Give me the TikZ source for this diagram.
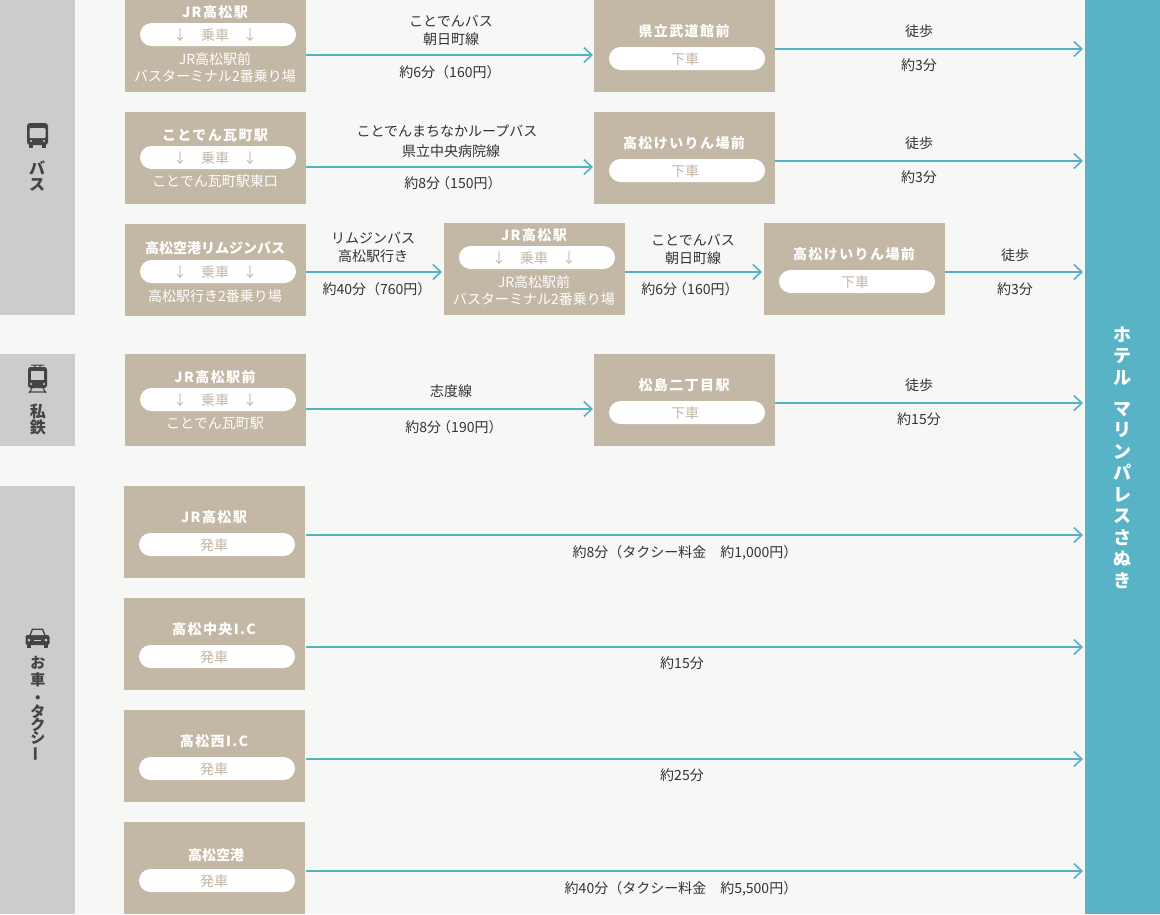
\documentclass[tikz,border=0pt]{standalone}
\usepackage{fontspec}
\setmainfont{Noto Sans CJK JP}
\newfontfamily\spacedfont[LetterSpace=10]{Noto Sans CJK JP}
\usepackage{tikz}
\usetikzlibrary{arrows.meta, calc, positioning, shapes.misc}
\definecolor{pagebg}{HTML}{F7F7F5}
\definecolor{sidegray}{HTML}{CCCCCC}
\definecolor{boxbrown}{HTML}{C3B7A5}
\definecolor{hotelblue}{HTML}{59B3C7}
\definecolor{linkblue}{HTML}{52B1C6}
\definecolor{inkdark}{HTML}{333333}
\definecolor{iconink}{HTML}{444444}
\tikzset{
  sidebar/.style={fill=sidegray, draw=none, minimum width=75pt, inner sep=0pt, outer sep=0pt},
  stopbox/.style={fill=boxbrown, draw=none, minimum width=181pt, minimum height=92pt, inner sep=0pt, outer sep=0pt},
  pill/.style={rounded rectangle, fill=white, draw=none, minimum width=156pt, minimum height=23pt, inner sep=0pt, outer sep=0pt, text=boxbrown, font=\fontsize{14}{14}\selectfont, text height=13pt, text depth=2pt},
  stoptitle/.style={text=white, inner sep=0pt, font=\spacedfont\bfseries\fontsize{14}{14}\selectfont, text height=13pt, text depth=2pt},
  stoptitlenarrow/.style={stoptitle, font=\bfseries\fontsize{14}{14}\selectfont},
  stopnote/.style={text=white, inner sep=0pt, font=\fontsize{14}{14}\selectfont, text height=13pt, text depth=2pt},
  linklabel/.style={text=inkdark, inner sep=0pt, font=\fontsize{14}{14}\selectfont, text height=13pt, text depth=2pt},
  sidelabel/.style={text=iconink, inner sep=0pt, align=center, font=\bfseries\fontsize{16}{16}\selectfont},
  link/.style={draw=linkblue, line width=2pt, -{Straight Barb[length=8pt,width=15pt,line width=1.6pt]}, shorten >=2pt},
  boxlink/.style={link, shorten >=1pt},
}
\newcommand{\ridepill}{↓\hspace{14pt}乗車\hspace{14pt}↓\kern6pt}
\newcommand{\offpill}{下車\kern4pt}
\newcommand{\departpill}{発車\kern6pt}
\begin{document}
\begin{tikzpicture}[x=1pt,y=-1pt]

        % Background
        \fill[pagebg] (0,0) rectangle (1160,914);

        % Side bars
        \node[sidebar, minimum height=315pt] (sidebus) at (37.5,157.5) {};
        \node[sidebar, minimum height=92pt] (siderail) at (37.5,400) {};
        \node[sidebar, minimum height=428pt] (sidecar) at (37.5,700) {};
        \node[fill=hotelblue, minimum width=75pt, minimum height=914pt, inner sep=0pt, outer sep=0pt] (hotel) at (1122.5,457) {};
        \node[text=white, inner sep=0pt, align=center, font=\bfseries\fontsize{18}{21.5}\selectfont] (hotelname) at (1122,457.5) {ホ\\テ\\ル\\[9.5pt]マ\\リ\\ン\\パ\\レ\\ス\\さ\\ぬ\\き};

        % Side labels
        \node[sidelabel] (buslabel) at (37,176) {バ\\ス};
        \node[sidelabel] (raillabel) at (38,419.5) {私\\鉄};
        \node[sidelabel, font=\bfseries\fontsize{15}{15}\selectfont] (carlabel) at (38,709) {お\\[2pt]車\\[3pt]・\\[-1pt]タ\\[-2pt]ク\\[-2pt]シ\\[-1pt]\rotatebox[origin=c]{90}{ー}};

        % Bus icon
        \fill[iconink, rounded corners=3pt] (27,123) rectangle (48,145);
        \fill[iconink] (29,144) rectangle (33,148); % wheel
        \fill[iconink] (42,144) rectangle (46,148); % wheel
        \fill[sidegray, rounded corners=1pt] (29.5,128) rectangle (45.5,138);
        \fill[sidegray] (31,141) circle (1.2);
        \fill[sidegray] (44,141) circle (1.2);

        % Train icon
        \draw[iconink, line width=1pt] (31,365) -- (44,365) (34,365) -- (36,368) (41,365) -- (39,368);
        \fill[iconink, rounded corners=2.5pt] (28,367) rectangle (47,388);
        \fill[sidegray] (31,371) rectangle (44,380);
        \fill[sidegray] (31,384) circle (1.2);
        \fill[sidegray] (44,384) circle (1.2);
        \draw[iconink, line width=1.2pt] (32,388) -- (29,393) (43,388) -- (46,393) (29,392) -- (46,392);

        % Car icon
        \fill[iconink, rounded corners=2pt] (25.5,635) rectangle (49.5,645);
        \fill[iconink] (29,636) -- (32,628.5) -- (43,628.5) -- (46,636) -- cycle;
        \fill[sidegray] (31,635) -- (33,630) -- (42,630) -- (44,635) -- cycle;
        \fill[iconink] (27,644) rectangle (31,647.5); % wheel
        \fill[iconink] (44,644) rectangle (48,647.5); % wheel
        \fill[sidegray] (29,640) circle (1.5);
        \fill[sidegray] (46,640) circle (1.5);
        \fill[sidegray] (34,639.5) rectangle (41,641);

        % Bus row 1
        \node[stopbox] (jrA) at (215.5,46) {};
        \node[stoptitle] (jrAname) at (215,12) {JR高松駅};
        \node[pill] (jrApill) at (218,34.5) {\ridepill};
        \node[stopnote] (jrAnote) at (215,59) {JR高松駅前};
        \node[stopnote] (jrAplace) at (215,76) {バスターミナル2番乗り場};
        \node[stopbox] (kenritsu) at (684.5,46) {};
        \node[stoptitle] (kenritsuname) at (684,31) {県立武道館前};
        \node[pill] (kenritsupill) at (687,58.5) {\offpill};
        \draw[boxlink] ([yshift=-9pt]jrA.east) -- ([yshift=-9pt]kenritsu.west);
        \draw[link] ([yshift=-3pt]kenritsu.east) -- ([yshift=-3pt]kenritsu.east -| hotel.west);
        \node[linklabel] (lineA) at (451,21) {ことでんバス};
        \node[linklabel] (lineAb) at (451,39) {朝日町線};
        \node[linklabel] (timeA) at (450,72) {約6分（160円）};
        \node[linklabel] (walkA) at (919,31) {徒歩};
        \node[linklabel] (walkAtime) at (919,65) {約3分};

        % Bus row 2
        \node[stopbox] (kawara) at (215.5,158) {};
        \node[stoptitle] (kawaraname) at (215,135) {ことでん瓦町駅};
        \node[pill] (kawarapill) at (218,157.5) {\ridepill};
        \node[stopnote] (kawaranote) at (215,181) {ことでん瓦町駅東口};
        \node[stopbox] (keirinA) at (684.5,158) {};
        \node[stoptitle] (keirinAname) at (684,143) {高松けいりん場前};
        \node[pill] (keirinApill) at (687,170.5) {\offpill};
        \draw[boxlink] ([yshift=-9pt]kawara.east) -- ([yshift=-9pt]keirinA.west);
        \draw[link] ([yshift=-3pt]keirinA.east) -- ([yshift=-3pt]keirinA.east -| hotel.west);
        \node[linklabel] (lineB) at (447,131) {ことでんまちなかループバス};
        \node[linklabel] (lineBb) at (451,151) {県立中央病院線};
        \node[linklabel] (timeB) at (453,183) {約8分\kern-4pt（150円）};
        \node[linklabel] (walkB) at (919,143) {徒歩};
        \node[linklabel] (walkBtime) at (919,177) {約3分};

        % Bus row 3
        \node[stopbox] (airportbus) at (215.5,269.5) {};
        \node[stoptitlenarrow] (airportbusname) at (215,248) {高松空港リムジンバス};
        \node[pill] (airportbuspill) at (218,271.5) {\ridepill};
        \node[stopnote] (airportbusnote) at (215,296) {高松駅行き2番乗り場};
        \node[stopbox] (jrB) at (534.5,269) {};
        \node[stoptitle] (jrBname) at (534,235) {JR高松駅};
        \node[pill] (jrBpill) at (537,257.5) {\ridepill};
        \node[stopnote] (jrBnote) at (534,282) {JR高松駅前};
        \node[stopnote] (jrBplace) at (534,299) {バスターミナル2番乗り場};
        \node[stopbox] (keirinB) at (854.5,269) {};
        \node[stoptitle] (keirinBname) at (854,254) {高松けいりん場前};
        \node[pill] (keirinBpill) at (857,281.5) {\offpill};
        \draw[link] ([yshift=-2.5pt]airportbus.east) -- ([yshift=-3pt]jrB.west);
        \draw[link] ([yshift=-3pt]jrB.east) -- ([yshift=-3pt]keirinB.west);
        \draw[link] ([yshift=-3pt]keirinB.east) -- ([yshift=-3pt]keirinB.east -| hotel.west);
        \node[linklabel] (lineC) at (373,238) {リムジンバス};
        \node[linklabel] (lineCb) at (373,256) {高松駅行き};
        \node[linklabel] (timeC) at (377,289) {約40分（760円）};
        \node[linklabel] (lineD) at (693,240) {ことでんバス};
        \node[linklabel] (lineDb) at (693,258) {朝日町線};
        \node[linklabel] (timeD) at (690,289) {約6分\kern-4pt（160円）};
        \node[linklabel] (walkC) at (1015,255) {徒歩};
        \node[linklabel] (walkCtime) at (1015,289) {約3分};

        % Private railway row
        \node[stopbox] (jrC) at (215.5,400) {};
        \node[stoptitle] (jrCname) at (215,377) {JR高松駅前};
        \node[pill] (jrCpill) at (218,399.5) {\ridepill};
        \node[stopnote] (jrCnote) at (215,423) {ことでん瓦町駅};
        \node[stopbox] (matsushima) at (684.5,400) {};
        \node[stoptitle] (matsushimaname) at (684,385) {松島二丁目駅};
        \node[pill] (matsushimapill) at (687,412.5) {\offpill};
        \draw[boxlink] ([yshift=-9pt]jrC.east) -- ([yshift=-9pt]matsushima.west);
        \draw[link] ([yshift=-3pt]matsushima.east) -- ([yshift=-3pt]matsushima.east -| hotel.west);
        \node[linklabel] (lineE) at (451,391) {志度線};
        \node[linklabel] (timeE) at (454,427) {約8分\kern-4pt（190円）};
        \node[linklabel] (walkE) at (919,385) {徒歩};
        \node[linklabel] (walkEtime) at (919,419) {約15分};

        % Car and taxi rows
        \node[stopbox] (taxiA) at (214.5,532) {};
        \node[stoptitle] (taxiAname) at (214,517) {JR高松駅};
        \node[pill] (taxiApill) at (217,544.5) {\departpill};
        \draw[link] ([xshift=1pt,yshift=-3pt]taxiA.east) -- ([yshift=-3pt]taxiA.east -| hotel.west);
        \node[linklabel] (taxiAtime) at (685,552) {約8分（タクシー料金　約1,000円）};

        \node[stopbox] (taxiB) at (214.5,644) {};
        \node[stoptitle] (taxiBname) at (214,629) {高松中央I.C};
        \node[pill] (taxiBpill) at (217,656.5) {\departpill};
        \draw[link] ([xshift=1pt,yshift=-3pt]taxiB.east) -- ([yshift=-3pt]taxiB.east -| hotel.west);
        \node[linklabel] (taxiBtime) at (682,663) {約15分};

        \node[stopbox] (taxiC) at (214.5,756) {};
        \node[stoptitle] (taxiCname) at (214,741) {高松西I.C};
        \node[pill] (taxiCpill) at (217,768.5) {\departpill};
        \draw[link] ([xshift=1pt,yshift=-3pt]taxiC.east) -- ([yshift=-3pt]taxiC.east -| hotel.west);
        \node[linklabel] (taxiCtime) at (682,775) {約25分};

        \node[stopbox] (taxiD) at (214.5,868) {};
        \node[stoptitlenarrow] (taxiDname) at (216,855) {高松空港};
        \node[pill] (taxiDpill) at (217,880.5) {\departpill};
        \draw[link] ([xshift=1pt,yshift=-3pt]taxiD.east) -- ([yshift=-3pt]taxiD.east -| hotel.west);
        \node[linklabel] (taxiDtime) at (681,888) {約40分（タクシー料金　約5,500円）};

\end{tikzpicture}
\end{document}
